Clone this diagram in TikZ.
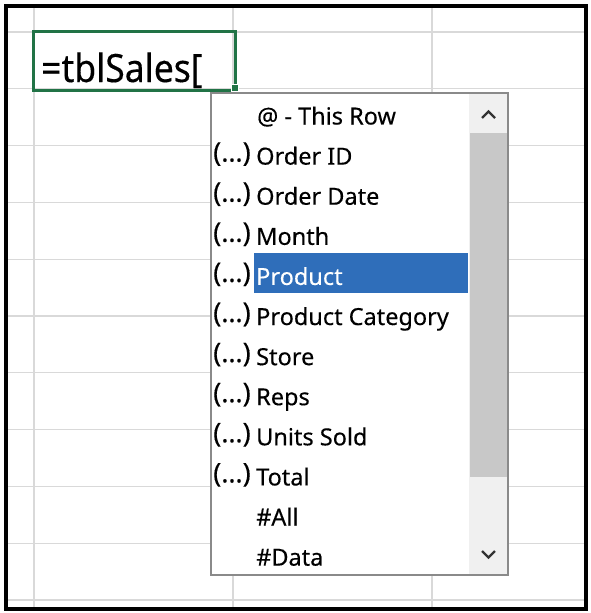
\documentclass[tikz,border=0pt]{standalone}
\usepackage{fontspec}
\setmainfont{Noto Sans}[FakeBold=0.3]
\definecolor{xlgreen}{HTML}{217346}
\definecolor{xlgrid}{HTML}{D9D9D9}
\definecolor{pickblue}{HTML}{2F6EBA}
\definecolor{scrolltrack}{HTML}{F0F0F0}
\definecolor{scrollthumb}{HTML}{C8C8C8}
\definecolor{popborder}{HTML}{8A8A8A}
\begin{document}
\begin{tikzpicture}[x=1pt,y=-1pt,
  gridline/.style={draw=xlgrid,line width=1.3pt},
  listtext/.style={anchor=base west,inner sep=0pt,font=\fontsize{23.5}{28}\selectfont},
  iconstyle/.style={anchor=base west,inner sep=0pt,font=\fontsize{27}{30}\selectfont},
  chevron/.style={draw=black!80,line width=2.3pt}]
\useasboundingbox (0,0) rectangle (591,613);
\fill[white] (0,0) rectangle (591,613);
% sheet grid
\foreach \gx in {34,233,432}
  \draw[gridline] (\gx,5) -- (\gx,609);
\foreach \k in {0,...,10}
  \draw[gridline] (5,32+56.8*\k) -- (586,32+56.8*\k);
\draw[line width=4pt] (5.5,5.5) rectangle (585.5,609);
% active cell
\draw[xlgreen,line width=3pt] (33,31) rectangle (235,90);
\node[name=cell,listtext,font=\fontsize{39}{44}\selectfont] at (41,82) {\scalebox{0.91}[1]{=tblSales[}};
\filldraw[fill=xlgreen,draw=white,line width=0.8pt] (231,84) rectangle (238,91);
% popup list
\filldraw[fill=white,draw=popborder,line width=1.2pt] (211,93) rectangle (508,575);
\fill[scrolltrack] (469,94) rectangle (507,574);
\fill[scrollthumb] (469.5,133) rectangle (507,477);
\draw[chevron] (482,118) -- (488.5,111.5) -- (495,118);
\draw[chevron] (482,551) -- (488.5,557.5) -- (495,551);
\fill[pickblue] (254,253) rectangle (468,293);
\node[name=thisrow,listtext] at (257,124.5) {@ - This Row};
\foreach \name/\col [count=\i from 0] in {Order ID/black,Order Date/black,Month/black,Product/white,Product Category/black,Store/black,Reps/black,Units Sold/black,Total/black}
{
  \node[name=icon\i,iconstyle] at (213,161.6+40.1*\i) {(\textbf{…})};
  \node[name=item\i,listtext,text=\col] at (256,164.6+40.1*\i) {\name};
}
\node[name=all,listtext] at (256,525.5) {\#All};
\node[name=data,listtext] at (256,565.6) {\#Data};
\end{tikzpicture}
\end{document}
